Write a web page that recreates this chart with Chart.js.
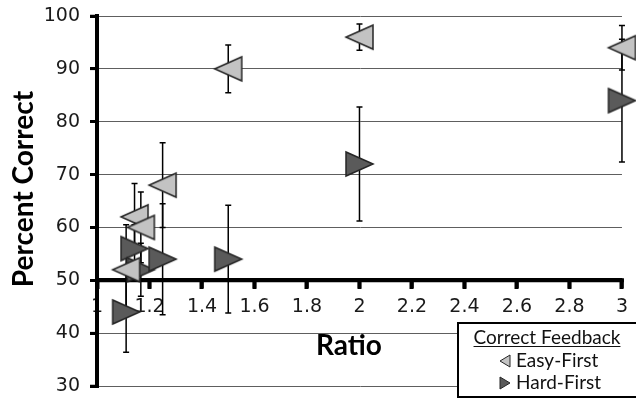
<!DOCTYPE html>
<html>
<head>
<meta charset="utf-8">
<script src="https://cdn.jsdelivr.net/npm/chart.js@4.4.1/dist/chart.umd.min.js"></script>
<style>
  html, body { margin: 0; padding: 0; background: #fff; }
  canvas { display: block; }
</style>
</head>
<body>
<canvas id="ratioChart" width="636" height="400"></canvas>
<script>
// values
const easyRatio = [1.111, 1.143, 1.167, 1.25, 1.5, 2, 3];
const easyPercent = [52, 62, 60, 68, 90, 96, 94];
const easyError = [8.5, 6.3, 6.7, 8, 4.5, 2.5, 4.2];

const hardRatio = [1.111, 1.143, 1.167, 1.25, 1.5, 2, 3];
const hardPercent = [44, 56, 52, 54, 54, 72, 84];
const hardError = [7.6, 4.5, 5, 10.5, 10.2, 10.8, 11.6];

const seriesLabels = ['Easy-First', 'Hard-First'];
const legendTitle = 'Correct Feedback';
const xTitle = 'Ratio';
const yTitle = 'Percent Correct';
const xCrossAt = 50;

const easyFill = '#c3c3c3';
const hardFill = '#5a5a5a';
const edge = '#262626';

// triangle marker on a little canvas (pointing left or right)
function makeTriangle(dir, fill, w, h) {
    const m = 3;
    const c = document.createElement('canvas');
    c.width = w + 2 * m;
    c.height = h + 2 * m;
    const g = c.getContext('2d');
    g.beginPath();
    if (dir === 'left') {
        g.moveTo(m, m + h / 2); g.lineTo(m + w, m); g.lineTo(m + w, m + h);
    } else {
        g.moveTo(m + w, m + h / 2); g.lineTo(m, m); g.lineTo(m, m + h);
    }
    g.closePath();
    g.fillStyle = fill;
    g.fill();
    g.lineWidth = 1.5;
    g.strokeStyle = edge;
    g.stroke();
    return c;
}

function toPoints(xs, ys) {
    return xs.map((x, i) => ({ x: x, y: ys[i] }));
}

// heavy axis lines + tick marks, then error bars (all under the markers)
const axesAndErrors = {
    id: 'axesAndErrors',
    beforeDatasetsDraw(chart) {
        const { ctx, chartArea, scales: { x, y } } = chart;
        ctx.save();
        ctx.strokeStyle = '#000';
        ctx.lineCap = 'butt';

        const y0 = y.getPixelForValue(xCrossAt);
        ctx.lineWidth = 4;
        ctx.beginPath();
        ctx.moveTo(chartArea.left, y0); ctx.lineTo(chartArea.right + 2, y0);
        ctx.moveTo(chartArea.left, chartArea.top - 2); ctx.lineTo(chartArea.left, chartArea.bottom + 2);
        ctx.stroke();

        ctx.lineWidth = 3.5;
        ctx.lineCap = 'round';
        x.ticks.forEach(t => {
            const px = x.getPixelForValue(t.value);
            ctx.beginPath();
            ctx.moveTo(px, y0); ctx.lineTo(px, y0 + 7);
            ctx.stroke();
        });
        ctx.lineCap = 'butt';
        ctx.lineWidth = 2.5;
        y.ticks.forEach(t => {
            const py = y.getPixelForValue(t.value);
            ctx.beginPath();
            ctx.moveTo(chartArea.left - 7, py); ctx.lineTo(chartArea.left, py);
            ctx.stroke();
        });

        ctx.lineWidth = 1.5;
        chart.data.datasets.forEach(ds => {
            ds.data.forEach((p, i) => {
                const px = x.getPixelForValue(p.x);
                const top = y.getPixelForValue(p.y + ds.errors[i]);
                const bot = y.getPixelForValue(p.y - ds.errors[i]);
                ctx.beginPath();
                ctx.moveTo(px, top); ctx.lineTo(px, bot);
                ctx.moveTo(px - 3, top); ctx.lineTo(px + 3, top);
                ctx.moveTo(px - 3, bot); ctx.lineTo(px + 3, bot);
                ctx.stroke();
            });
        });
        ctx.restore();
    }
};

// axis titles and the boxed legend in the lower right
const titlesAndLegend = {
    id: 'titlesAndLegend',
    afterDraw(chart) {
        const ctx = chart.ctx;
        ctx.save();
        ctx.fillStyle = '#000';
        ctx.font = 'bold 28px Lato';
        ctx.textAlign = 'center';
        ctx.textBaseline = 'alphabetic';
        ctx.fillText(xTitle, 349, 355);

        ctx.save();
        ctx.translate(33, 189);
        ctx.rotate(-Math.PI / 2);
        ctx.fillText(yTitle, 0, 0);
        ctx.restore();

        // legend box
        ctx.fillStyle = '#fff';
        ctx.fillRect(458, 323, 190, 74);
        ctx.lineWidth = 2;
        ctx.strokeStyle = '#000';
        ctx.strokeRect(458, 323, 190, 74);

        ctx.fillStyle = '#111';
        ctx.font = '19px Lato';
        ctx.textAlign = 'center';
        ctx.fillText(legendTitle, 547, 344);
        const tw = ctx.measureText(legendTitle).width;
        ctx.fillRect(547 - tw / 2, 346, tw, 1);

        ctx.textAlign = 'left';
        chart.data.datasets.forEach((ds, i) => {
            const cy = i === 0 ? 361 : 383;
            ctx.beginPath();
            if (i === 0) {
                ctx.moveTo(500, cy); ctx.lineTo(510, cy - 6); ctx.lineTo(510, cy + 6);
            } else {
                ctx.moveTo(510, cy); ctx.lineTo(500, cy - 6); ctx.lineTo(500, cy + 6);
            }
            ctx.closePath();
            ctx.fillStyle = i === 0 ? easyFill : hardFill;
            ctx.fill();
            ctx.lineWidth = 1;
            ctx.strokeStyle = edge;
            ctx.stroke();
            ctx.fillStyle = '#111';
            ctx.fillText(ds.label, 516, cy + 6);
        });
        ctx.restore();
    }
};

const tickFont = { family: 'DejaVu Sans', size: 19 };

new Chart(document.getElementById('ratioChart'), {
    type: 'scatter',
    data: {
        datasets: [
            {
                label: seriesLabels[0],
                data: toPoints(easyRatio, easyPercent),
                errors: easyError,
                pointStyle: makeTriangle('left', easyFill, 27, 24),
                pointRadius: 1,
                pointHoverRadius: 1,
                borderWidth: 0,
                clip: false
            },
            {
                label: seriesLabels[1],
                data: toPoints(hardRatio, hardPercent),
                errors: hardError,
                pointStyle: makeTriangle('right', hardFill, 27, 24),
                pointRadius: 1,
                pointHoverRadius: 1,
                borderWidth: 0,
                clip: false
            }
        ]
    },
    options: {
        responsive: false,
        animation: false,
        events: [],
        layout: { padding: { top: 16, right: 8, bottom: 14, left: 0 } },
        plugins: {
            legend: { display: false },
            tooltip: { enabled: false }
        },
        scales: {
            x: {
                type: 'linear',
                position: { y: xCrossAt },
                min: 1,
                max: 3,
                ticks: {
                    stepSize: 0.2,
                    autoSkip: false,
                    maxRotation: 0,
                    padding: 8,
                    color: '#1a1a1a',
                    font: tickFont,
                    callback: v => String(Math.round(v * 10) / 10)
                },
                grid: {
                    drawOnChartArea: false,
                    tickLength: 7,
                    tickColor: '#000',
                    tickWidth: 4
                },
                border: { color: '#000', width: 4 }
            },
            y: {
                min: 30,
                max: 100,
                ticks: {
                    stepSize: 10,
                    padding: 10,
                    color: '#1a1a1a',
                    font: tickFont
                },
                grid: {
                    color: '#5e5e5e',
                    lineWidth: 1,
                    tickLength: 7,
                    tickColor: '#000',
                    tickWidth: 3
                },
                border: { color: '#000', width: 4 },
                afterFit(scale) {
                    scale.width = 97;
                    scale.paddingTop = 0;
                    scale.paddingBottom = 0;
                }
            }
        }
    },
    plugins: [axesAndErrors, titlesAndLegend]
});
</script>
</body>
</html>
